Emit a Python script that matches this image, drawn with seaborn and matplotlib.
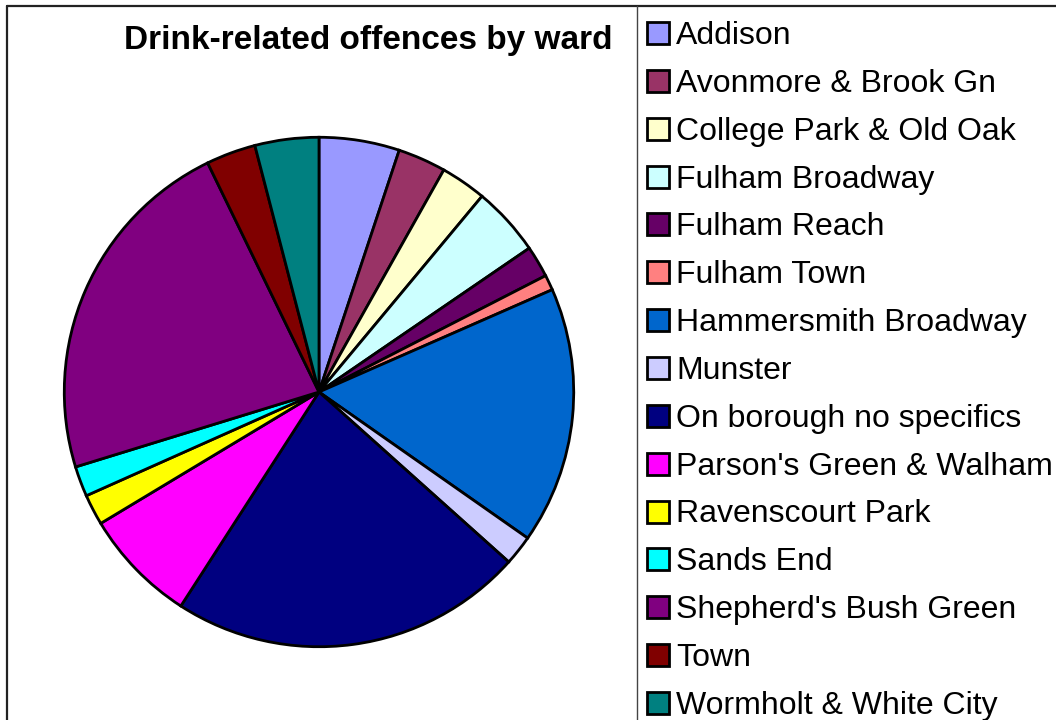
import matplotlib
matplotlib.use("Agg")
import matplotlib.pyplot as plt
import seaborn as sns
from matplotlib.patches import Rectangle
from matplotlib.lines import Line2D

wards = ["Addison", "Avonmore & Brook Gn", "College Park & Old Oak", "Fulham Broadway",
         "Fulham Reach", "Fulham Town", "Hammersmith Broadway", "Munster",
         "On borough no specifics", "Parson's Green & Walham", "Ravenscourt Park",
         "Sands End", "Shepherd's Bush Green", "Town", "Wormholt & White City"]
offences = [5.1, 3.05, 2.9, 4.4, 2.0, 0.97, 16.3, 1.9, 22.5, 7.25, 1.95, 1.92, 22.55, 3.15, 4.05]
colors = ["#9999FF", "#993366", "#FFFFCC", "#CCFFFF", "#660066", "#FF8080", "#0066CC",
          "#CCCCFF", "#000080", "#FF00FF", "#FFFF00", "#00FFFF", "#800080", "#800000", "#008080"]
title = "Drink-related offences by ward"

sns.set_theme(style="white")
plt.rcParams["font.family"] = ["Liberation Sans", "DejaVu Sans"]

W, H = 1056, 720
fig = plt.figure(figsize=(W / 100, H / 100), dpi=100)
fig.patch.set_facecolor("white")

cx, cy, r = 319, 392, 256
ax = fig.add_axes([(cx - r) / W, (H - cy - r) / H, 2 * r / W, 2 * r / H])
ax.pie(offences, colors=colors, startangle=90, counterclock=False,
       wedgeprops=dict(edgecolor="black", linewidth=2.0))
ax.set_xlim(-1.005, 1.005)
ax.set_ylim(-1.005, 1.005)
ax.set_aspect("equal")
ax.axis("off")

fig.text(612 / W, 1 - 40 / H, title, ha="right", va="center",
         fontsize=24, fontweight="bold", color="black")

# frame lines
fig.add_artist(Line2D([7 / W, 7 / W], [0, 1 - 6 / H], color="#222222", lw=1.6))
fig.add_artist(Line2D([7 / W, 1], [1 - 6 / H, 1 - 6 / H], color="#222222", lw=1.6))
fig.add_artist(Line2D([637 / W, 637 / W], [0, 1 - 6 / H], color="#444444", lw=1.0))

# legend
for i, (name, col) in enumerate(zip(wards, colors)):
    yc = 33 + i * 47.85
    fig.add_artist(Rectangle((647 / W, 1 - (yc + 11) / H), 22 / W, 22 / H,
                             facecolor=col, edgecolor="black", lw=2.0))
    fig.text(676 / W, 1 - (yc + 3) / H, name, ha="left", va="center",
             fontsize=23, color="black")

fig.savefig("out.png", dpi=100)
